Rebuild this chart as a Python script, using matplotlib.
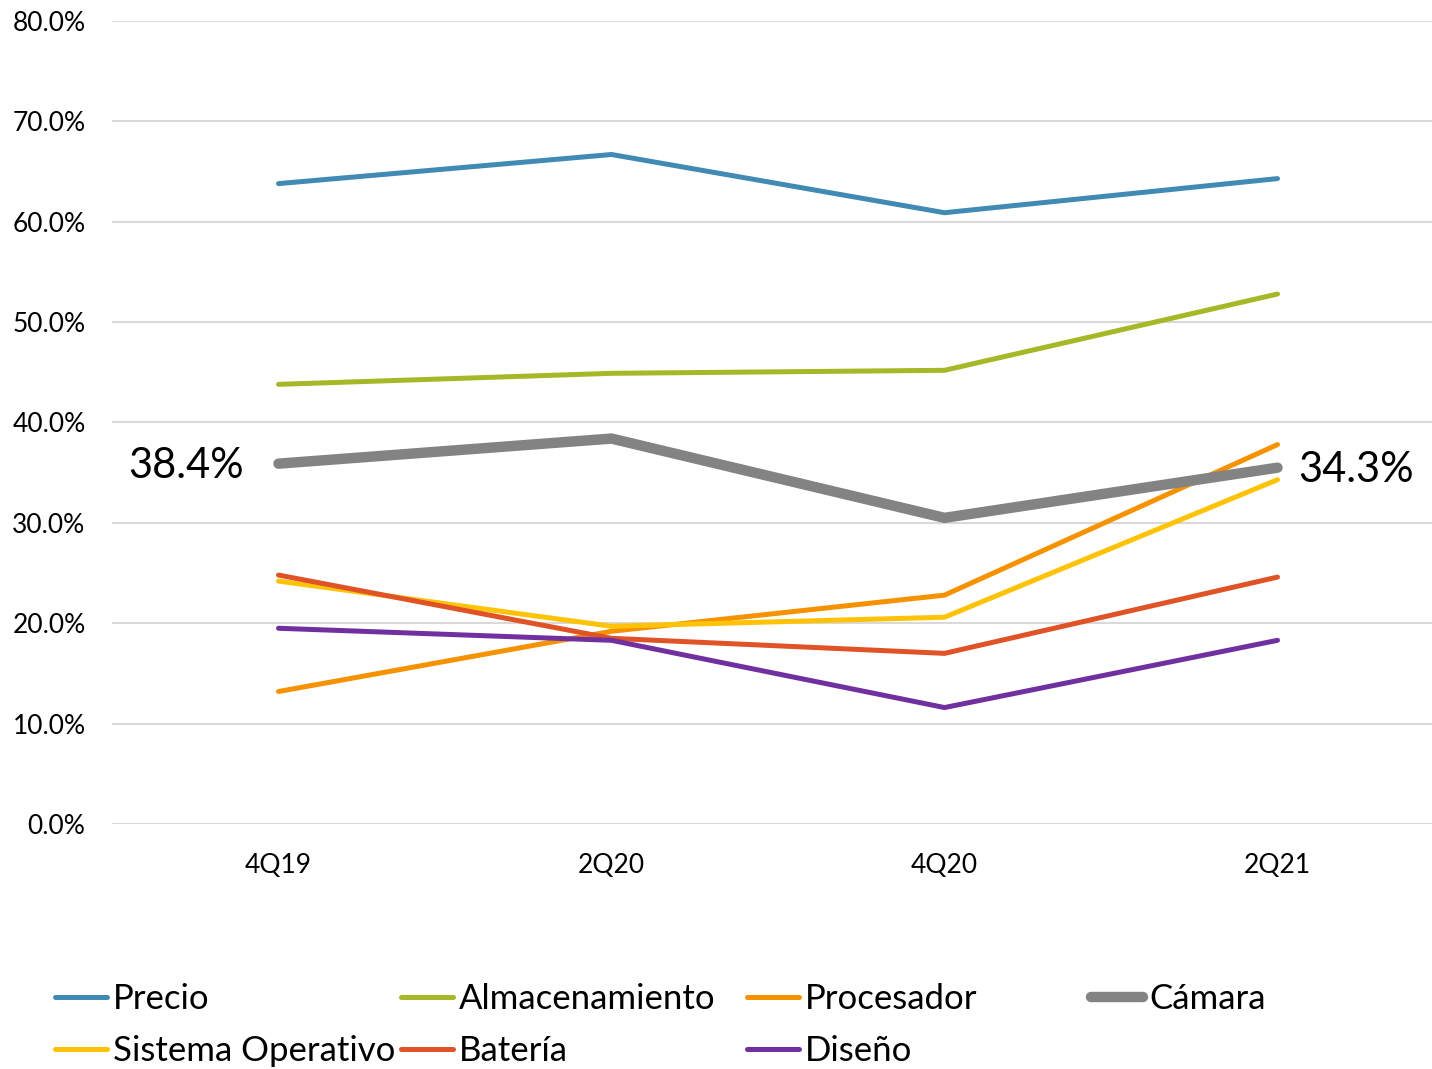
import matplotlib
matplotlib.use("Agg")
import matplotlib.pyplot as plt
from matplotlib.ticker import PercentFormatter

categories = ["4Q19", "2Q20", "4Q20", "2Q21"]
precio = [63.8, 66.7, 60.9, 64.3]
almacenamiento = [43.8, 44.9, 45.2, 52.8]
procesador = [13.2, 19.2, 22.8, 37.8]
camara = [35.9, 38.4, 30.5, 35.5]
sistema_operativo = [24.2, 19.7, 20.6, 34.3]
bateria = [24.8, 18.5, 17.0, 24.6]
diseno = [19.5, 18.3, 11.6, 18.3]
camara_labels = ["38.4%", "34.3%"]
yticks = [0, 10, 20, 30, 40, 50, 60, 70, 80]

plt.rcParams['font.family'] = ['Lato', 'DejaVu Sans']

fig = plt.figure(figsize=(14.32, 10.69), dpi=100)
W, H = 1432, 1069
ax = fig.add_axes([112 / W, 1 - 824 / H, (1444 - 112) / W, (824 - 21) / H])
x = list(range(len(categories)))

series = [
    ("Precio", precio, "#418AB3", 3.6),
    ("Almacenamiento", almacenamiento, "#A6B727", 3.6),
    ("Procesador", procesador, "#F69200", 3.6),
    ("Cámara", camara, "#838383", 7.5),
    ("Sistema Operativo", sistema_operativo, "#FEC306", 3.6),
    ("Batería", bateria, "#DF5327", 3.6),
    ("Diseño", diseno, "#7030A0", 3.6),
]
z = {"Cámara": 5}
handles = {}
for name, vals, col, lw in series:
    ln, = ax.plot(x, vals, color=col, lw=lw, solid_capstyle='round',
                  solid_joinstyle='miter', label=name, zorder=z.get(name, 3))
    handles[name] = ln

ax.annotate(camara_labels[0], (x[0], camara[0]), xytext=(-25, -2), textcoords='offset points',
            ha='right', va='center', fontsize=30)
ax.annotate(camara_labels[1], (x[-1], camara[-1]), xytext=(15, -2), textcoords='offset points',
            ha='left', va='center', fontsize=30)

ax.set_xlim(-0.5, 3.5)
ax.set_ylim(0, 80)
ax.set_yticks(yticks)
ax.yaxis.set_major_formatter(PercentFormatter(decimals=1))
ax.set_xticks(x)
ax.set_xticklabels(categories)
ax.tick_params(axis='both', length=0, labelsize=19)
ax.tick_params(axis='x', pad=21)
ax.tick_params(axis='y', pad=19)
ax.grid(axis='y', color='#D9D9D9', lw=1.5)
ax.set_axisbelow(True)
for s in ax.spines.values():
    s.set_visible(False)

cols = [["Precio", "Sistema Operativo"], ["Almacenamiento", "Batería"],
        ["Procesador", "Diseño"], ["Cámara"]]
col_x = [55, 401, 747, 1091]
for cx, names in zip(col_x, cols):
    fig.legend([handles[n] for n in names], names, loc='upper left',
               bbox_to_anchor=(cx / W, 1 - 983 / H), frameon=False, fontsize=25,
               handlelength=1.5, handletextpad=0.18, labelspacing=0.58,
               borderpad=0, borderaxespad=0)

fig.savefig("out.png", dpi=100)
